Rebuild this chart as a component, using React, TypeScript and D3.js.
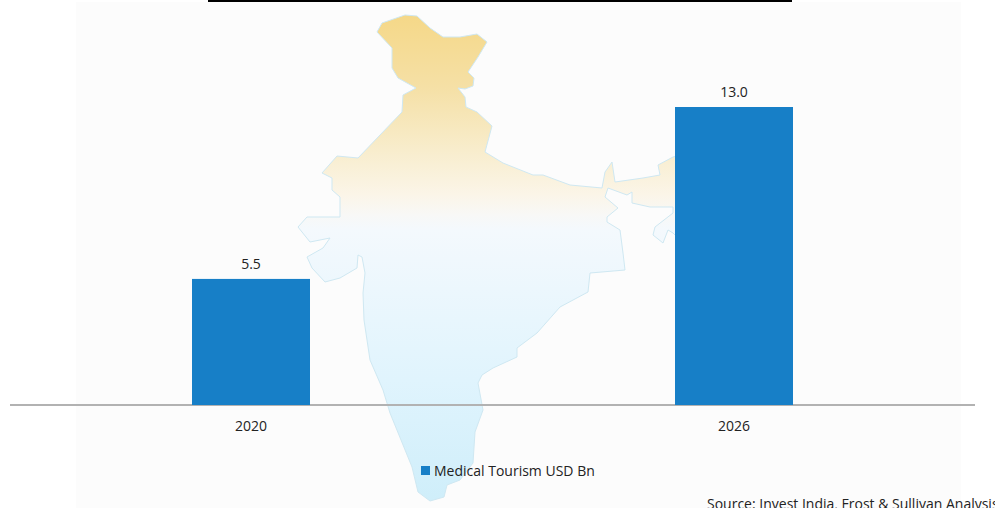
import React from "react";
import * as d3 from "d3";

const categories = ["2020", "2026"];
const values = [5.5, 13.0];
const valueLabels = ["5.5", "13.0"];
const seriesName = "Medical Tourism USD Bn";
const sourceNote = "Source: Invest India, Frost & Sullivan Analysis";
const mapOutline: [number, number][] = [
  [377,32],[382,23],[405,15],[417,16],[430,28],[443,37],[460,37],[477,34],[487,42],[478,57],[468,72],[474,78],[473,86],[465,89],[458,88],[465,97],[466,107],[477,112],[492,126],[485,152],[503,163],[533,175],[543,175],[570,185],[602,188],[605,172],[612,162],[615,182],[643,178],[660,175],[658,165],[673,157],[700,150],[710,210],[690,250],[673,233],[668,230],[663,243],[653,235],[655,227],[673,213],[673,207],[650,207],[632,203],[632,192],[627,195],[608,188],[605,197],[618,208],[607,217],[607,222],[620,230],[623,253],[625,270],[590,273],[588,292],[560,307],[537,333],[517,348],[517,357],[493,368],[482,375],[478,383],[483,410],[475,432],[473,463],[460,480],[447,485],[444,497],[430,501],[418,492],[412,467],[390,413],[383,390],[370,360],[364,320],[363,293],[365,273],[362,257],[358,255],[357,268],[340,278],[325,282],[312,268],[307,257],[323,248],[330,238],[310,242],[298,227],[307,217],[340,217],[340,197],[332,190],[332,178],[322,173],[337,156],[358,158],[402,112],[403,95],[416,88],[398,78],[392,68],[392,48],
];
const gradientStops = [
  { at: 0, color: "#f5d888" },
  { at: 0.15, color: "#f5e0a6" },
  { at: 0.28, color: "#f8edcd" },
  { at: 0.37, color: "#fbf5e8" },
  { at: 0.41, color: "#f8f8f6" },
  { at: 0.44, color: "#f4f9fd" },
  { at: 0.75, color: "#e0f4fd" },
  { at: 1, color: "#cfeefa" },
];

const W = 995, H = 508;
const baseY = 405;
const FONT = "'Open Sans', sans-serif";
const TEXT = "#222";

export default function App() {
  const x = d3.scalePoint<string>().domain(categories).range([251, 734]);
  const y = d3.scaleLinear().domain([0, 13]).range([baseY, 107]);
  const line = d3.line().curve(d3.curveLinearClosed);
  const bw = 118;
  return (
    <svg width={W} height={H} style={{ position: "absolute", left: 0, top: 0 }} viewBox={`0 0 ${W} ${H}`}>
      <defs>
        <linearGradient id="g" x1="0" y1="0" x2="0" y2="1">
          {gradientStops.map((s) => <stop key={s.at} offset={s.at} stopColor={s.color} />)}
        </linearGradient>
      </defs>
      <rect width={W} height={H} fill="#fff" />
      <rect x={76} y={2} width={885} height={506} fill="#fcfcfc" />
      <rect x={208} y={0} width={584} height={2} fill="#000" />
      <path d={line(mapOutline) ?? ""} fill="url(#g)" stroke="#cfe8f2" strokeWidth={1} strokeLinejoin="round" />
      <line x1={10} x2={975} y1={baseY} y2={baseY} stroke="#b2b2b2" strokeWidth={2} />
      {categories.map((c, i) => (
        <g key={c}>
          <rect x={(x(c) ?? 0) - bw / 2} y={y(values[i])} width={bw} height={baseY - y(values[i])} fill="#177fc7" />
          <text x={x(c)} y={y(values[i]) - 10} textAnchor="middle" fontFamily={FONT} fontSize={14} fill={TEXT}>{valueLabels[i]}</text>
          <text x={x(c)} y={431} textAnchor="middle" fontFamily={FONT} fontSize={14} fill={TEXT}>{c}</text>
        </g>
      ))}
      <rect x={421} y={466} width={9} height={9} fill="#177fc7" />
      <text x={434} y={476} fontFamily={FONT} fontSize={14} fill={TEXT}>{seriesName}</text>
      <text x={707} y={509} fontFamily={FONT} fontSize={14} fill={TEXT}>{sourceNote}</text>
    </svg>
  );
}
